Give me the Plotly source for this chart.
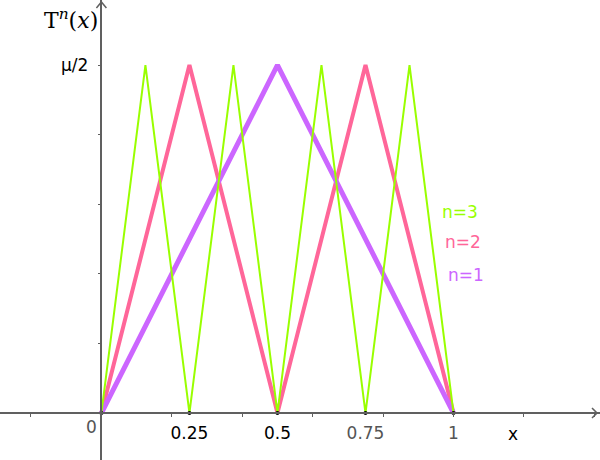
import plotly.graph_objects as go

# tent map iterates T^n(x), heights in units of mu/2
x_n1 = [0, 0.5, 1]
y_n1 = [0, 1, 0]
x_n2 = [0, 0.25, 0.5, 0.75, 1]
y_n2 = [0, 1, 0, 1, 0]
x_n3 = [0, 0.125, 0.25, 0.375, 0.5, 0.625, 0.75, 0.875, 1]
y_n3 = [0, 1, 0, 1, 0, 1, 0, 1, 0]

dot_x = [0, 0.25, 0.5, 0.75, 1]
dot_y = [0, 0, 0, 0, 0]

x_tickvals = [0.25, 0.5, 0.75, 1]
x_ticktext = ["0.25", "0.5", "<span style='color:#555555'>0.75</span>",
              "<span style='color:#555555'>1</span>"]
y_tickvals = [1]
y_ticktext = ["μ/2"]

labels = ["n=3", "n=2", "n=1"]
label_x = [0.962, 0.970, 0.979]
label_y = [0.578, 0.491, 0.397]

PURPLE = "#cc66ff"
PINK = "#ff6699"
GREEN = "#99ff00"
AXIS = "#606060"

x_range = [-0.288, 1.416]
y_range = [-0.135, 1.187]

fig = go.Figure()
fig.add_trace(go.Scatter(x=x_n2, y=y_n2, mode="lines",
                         line=dict(color=PINK, width=4)))
fig.add_trace(go.Scatter(x=x_n1, y=y_n1, mode="lines",
                         line=dict(color=PURPLE, width=5)))
fig.add_trace(go.Scatter(x=x_n3, y=y_n3, mode="lines",
                         line=dict(color=GREEN, width=2)))
fig.add_trace(go.Scatter(x=dot_x, y=dot_y, mode="markers",
                         marker=dict(color="black", size=4)))

font = dict(family="DejaVu Sans", size=17, color="black")

fig.update_layout(
    width=600, height=460,
    margin=dict(l=0, r=0, t=0, b=0),
    paper_bgcolor="white", plot_bgcolor="white",
    showlegend=False,
    font=font,
    xaxis=dict(
        range=x_range, showgrid=False, zeroline=False, automargin=False,
        showline=True, linecolor=AXIS, linewidth=1.5,
        anchor="free",
        position=(0 - y_range[0]) / (y_range[1] - y_range[0]),
        tickvals=x_tickvals, ticktext=x_ticktext, ticks="",
        ticklabelstandoff=5,
        minor=dict(dtick=0.2, tick0=0, ticks="outside", ticklen=3,
                   tickcolor=AXIS, tickwidth=1),
    ),
    yaxis=dict(
        range=y_range, showgrid=False, zeroline=False, automargin=False,
        showline=True, linecolor=AXIS, linewidth=1.5,
        anchor="free",
        position=(0 - x_range[0]) / (x_range[1] - x_range[0]),
        tickvals=y_tickvals, ticktext=y_ticktext,
        ticks="outside", ticklen=3, tickcolor=AXIS,
        ticklabelstandoff=6,
        minor=dict(dtick=0.2, tick0=0, ticks="outside", ticklen=3,
                   tickcolor=AXIS, tickwidth=1),
    ),
)

# axis arrow heads (open chevrons, sized in pixels)
fig.add_shape(type="path", xref="x", yref="y", xsizemode="pixel",
              ysizemode="pixel", xanchor=x_range[1], yanchor=0,
              path="M -8,5 L -3,0 L -8,-5",
              line=dict(color=AXIS, width=1.5))
fig.add_shape(type="path", xref="x", yref="y", xsizemode="pixel",
              ysizemode="pixel", xanchor=0, yanchor=y_range[1],
              path="M -5,-8 L 0,-2 L 5,-8",
              line=dict(color=AXIS, width=1.5))

fig.add_annotation(x=0, y=0, text="0", showarrow=False, xanchor="right",
                   yanchor="top", xshift=-2, yshift=-2,
                   font=dict(family="DejaVu Sans", size=17, color="#555555"))
fig.add_annotation(x=1.17, y=0, text="x", showarrow=False, yanchor="top",
                   yshift=-9, font=font)
fig.add_annotation(x=0, y=y_range[1], text="T<sup><i>n</i></sup>(<i>x</i>)",
                   showarrow=False, xanchor="right", yanchor="top",
                   xshift=-1, yshift=-3,
                   font=dict(family="DejaVu Serif", size=22, color="black"))

label_colors = [GREEN, PINK, PURPLE]
for t, lx, ly, c in zip(labels, label_x, label_y, label_colors):
    fig.add_annotation(x=lx, y=ly, text=t, showarrow=False, xanchor="left",
                       font=dict(family="DejaVu Sans", size=17, color=c))

fig.write_html("out.html", config={"displayModeBar": False},
               post_script="document.body.style.margin = '0';")
